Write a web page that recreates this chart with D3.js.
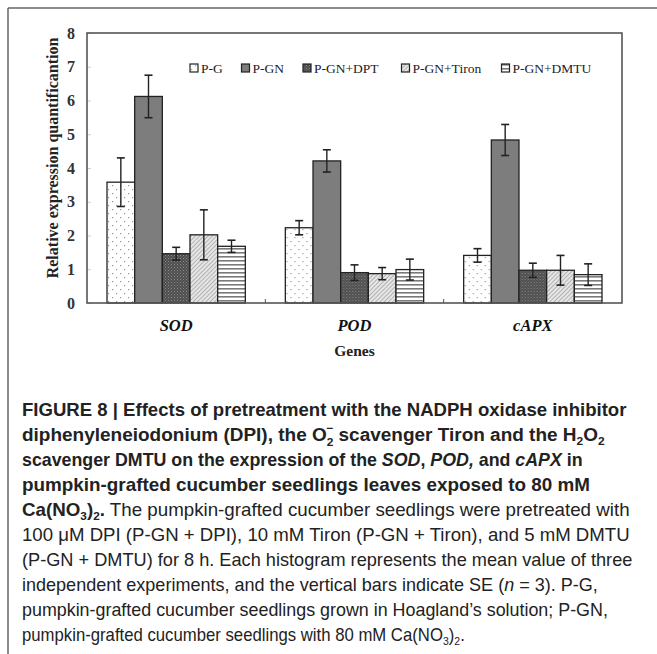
<!DOCTYPE html>
<html><head><meta charset="utf-8">
<script src="https://cdn.jsdelivr.net/npm/d3@7"></script>
<style>body{margin:0;background:#fff}svg{display:block}</style>
</head><body>
<script>
const genes = ["SOD", "POD", "cAPX"];
const seriesNames = ["P-G", "P-GN", "P-GN+DPT", "P-GN+Tiron", "P-GN+DMTU"];
const sodValues  = [3.58, 6.12, 1.46, 2.02, 1.68];
const sodErrors  = [0.72, 0.63, 0.19, 0.74, 0.18];
const podValues  = [2.23, 4.21, 0.90, 0.87, 0.99];
const podErrors  = [0.21, 0.33, 0.23, 0.18, 0.31];
const capxValues = [1.41, 4.83, 0.97, 0.97, 0.84];
const capxErrors = [0.20, 0.46, 0.21, 0.44, 0.32];
const yTicks = [0, 1, 2, 3, 4, 5, 6, 7, 8];

const valuesByGene = [sodValues, podValues, capxValues];
const errorsByGene = [sodErrors, podErrors, capxErrors];

const W = 657, H = 654;
const svg = d3.select("body").append("svg").attr("width", W).attr("height", H);
const defs = svg.append("defs");

// patterns
const pDots = defs.append("pattern").attr("id","pg").attr("patternUnits","userSpaceOnUse").attr("width",8).attr("height",8);
pDots.append("rect").attr("width",8).attr("height",8).attr("fill","#fff");
pDots.append("rect").attr("x",1).attr("y",1).attr("width",1.2).attr("height",1.2).attr("fill","#999");
pDots.append("rect").attr("x",5).attr("y",5).attr("width",1.2).attr("height",1.2).attr("fill","#999");

const pSolid = defs.append("pattern").attr("id","pgn").attr("patternUnits","userSpaceOnUse").attr("width",4).attr("height",4);
pSolid.append("rect").attr("width",4).attr("height",4).attr("fill","#7d7d7d");

const pDpt = defs.append("pattern").attr("id","dpt").attr("patternUnits","userSpaceOnUse").attr("width",3).attr("height",3);
pDpt.append("rect").attr("width",3).attr("height",3).attr("fill","#4e4e4e");
pDpt.append("rect").attr("x",0).attr("y",0).attr("width",1).attr("height",1).attr("fill","#8a8a8a");
pDpt.append("rect").attr("x",1.5).attr("y",1.5).attr("width",1).attr("height",1).attr("fill","#7a7a7a");

const pTir = defs.append("pattern").attr("id","tir").attr("patternUnits","userSpaceOnUse").attr("width",3).attr("height",3).attr("patternTransform","rotate(45)");
pTir.append("rect").attr("width",3).attr("height",3).attr("fill","#e6e6e6");
pTir.append("line").attr("x1",0).attr("y1",0).attr("x2",0).attr("y2",3).attr("stroke","#8f8f8f").attr("stroke-width",1.2);

const pDm = defs.append("pattern").attr("id","dm").attr("patternUnits","userSpaceOnUse").attr("width",4).attr("height",4);
pDm.append("rect").attr("width",4).attr("height",4).attr("fill","#fff");
pDm.append("rect").attr("y",0).attr("width",4).attr("height",1.6).attr("fill","#7a7a7a");

const fills = ["url(#pg)", "url(#pgn)", "url(#dpt)", "url(#tir)", "url(#dm)"];

// outer frame
svg.append("line").attr("x1",8).attr("y1",8).attr("x2",W).attr("y2",8).attr("stroke","#666").attr("stroke-width",1.5);
svg.append("line").attr("x1",8).attr("y1",8).attr("x2",8).attr("y2",H).attr("stroke","#666").attr("stroke-width",1.5);

const L = 87, R = 622, T = 33, B = 303;
const x0 = d3.scaleBand().domain(genes).range([L, R]).padding(0);
const x1 = d3.scaleBand().domain(seriesNames).range([20, x0.bandwidth() - 20]).padding(0);
const y = d3.scaleLinear().domain([0, 8]).range([B, T]);

const serif = "'Liberation Serif','Times New Roman',serif";

// y ticks (inner, faint)
const yAxis = svg.append("g").attr("transform", `translate(${L},0)`)
  .call(d3.axisRight(y).tickValues(yTicks).tickSize(4).tickFormat(""));
yAxis.select(".domain").remove();
yAxis.selectAll("line").attr("stroke","#ccc");
svg.append("g").selectAll("text").data(yTicks).join("text")
  .attr("x", 71).attr("y", d => y(d)).attr("dy","0.35em").attr("text-anchor","middle")
  .attr("font-family", serif).attr("font-weight","bold").attr("font-size",16).attr("fill","#333")
  .text(d => d);

// category boundary ticks
const bounds = genes.slice(1).map(g => x0(g));
svg.append("g").selectAll("line").data(bounds).join("line")
  .attr("x1", d => d).attr("x2", d => d).attr("y1", B).attr("y2", B - 4)
  .attr("stroke","#555").attr("stroke-width",1);

// bars
const groups = svg.append("g").selectAll("g").data(genes).join("g")
  .attr("transform", g => `translate(${x0(g)},0)`);
groups.selectAll("rect").data((g, gi) => seriesNames.map((s, si) => ({s, si, v: valuesByGene[gi][si], e: errorsByGene[gi][si]})))
  .join("rect")
  .attr("x", d => x1(d.s)).attr("width", x1.bandwidth())
  .attr("y", d => y(d.v)).attr("height", d => y(0) - y(d.v))
  .attr("fill", d => fills[d.si]).attr("stroke","#222").attr("stroke-width",1.3);

// error bars
groups.each(function(g, gi) {
  const grp = d3.select(this);
  const data = seriesNames.map((s, si) => ({s, v: valuesByGene[gi][si], e: errorsByGene[gi][si]}));
  const eb = grp.selectAll("g.eb").data(data).join("g").attr("class","eb")
    .attr("transform", d => `translate(${x1(d.s) + x1.bandwidth()/2},0)`);
  eb.append("line").attr("x1",0).attr("x2",0).attr("y1", d => y(d.v + d.e)).attr("y2", d => y(d.v - d.e))
    .attr("stroke","#222").attr("stroke-width",1.4);
  eb.append("line").attr("x1",-4).attr("x2",4).attr("y1", d => y(d.v + d.e)).attr("y2", d => y(d.v + d.e))
    .attr("stroke","#222").attr("stroke-width",1.6);
  eb.append("line").attr("x1",-4).attr("x2",4).attr("y1", d => y(d.v - d.e)).attr("y2", d => y(d.v - d.e))
    .attr("stroke","#222").attr("stroke-width",1.6);
});

// plot border
svg.append("rect").attr("x", L).attr("y", T).attr("width", R - L).attr("height", B - T)
  .attr("fill","none").attr("stroke","#555").attr("stroke-width",1.6);

// category labels
svg.append("g").selectAll("text").data(genes).join("text")
  .attr("x", g => x0(g) + x0.bandwidth()/2).attr("y", 325).attr("dy","0.35em").attr("text-anchor","middle")
  .attr("font-family", serif).attr("font-weight","bold").attr("font-style","italic").attr("font-size",16.5).attr("fill","#111")
  .text(g => g);
svg.append("text").attr("x", (L + R)/2).attr("y", 351).attr("dy","0.35em").attr("text-anchor","middle")
  .attr("font-family", serif).attr("font-weight","bold").attr("font-size",15.5).attr("fill","#222").text("Genes");
svg.append("text").attr("transform", `translate(52,158) rotate(-90)`).attr("dy","0.35em").attr("text-anchor","middle")
  .attr("font-family", serif).attr("font-weight","bold").attr("font-size",16).attr("fill","#222")
  .text("Relative expression quantificantion");

// legend
const legendX = [190, 241.5, 303, 401.5, 501.5];
const lg = svg.append("g").selectAll("g").data(seriesNames).join("g")
  .attr("transform", (d, i) => `translate(${legendX[i]},68)`);
lg.append("rect").attr("x",0).attr("y",-4).attr("width",8).attr("height",8)
  .attr("fill", (d, i) => fills[i]).attr("stroke","#222").attr("stroke-width",1.2);
lg.append("text").attr("x",11).attr("y",0).attr("dy","0.35em")
  .attr("font-family", serif).attr("font-size",13.5).attr("fill","#222").text(d => d);

// caption
const sans = "'Liberation Sans', Arial, sans-serif";
function capLine(yy, parts, weight, targetW) {
  const g = svg.append("g").attr("transform", `translate(22,${yy})`);
  const t = g.append("text").attr("font-family", sans).attr("font-size",17.5).attr("font-weight",weight).attr("fill","#222");
  parts.forEach(p => {
    const ts = t.append("tspan").text(p.t);
    if (p.i) ts.attr("font-style","italic");
    if (p.w) ts.attr("font-weight", p.w);
    if (p.sub) ts.attr("font-size",11).attr("dy", p.dy !== undefined ? p.dy : 4);
    if (p.sup) ts.attr("font-size",11).attr("dy", p.dy !== undefined ? p.dy : -7);
    if (p.dx) ts.attr("dx", p.dx);
    if (p.back !== undefined) ts.attr("dy", p.back);
  });
  const w = t.node().getComputedTextLength();
  if (targetW) g.attr("transform", `translate(22,${yy}) scale(${targetW / w},1)`);
}
capLine(416, [{t:"FIGURE 8 | Effects of pretreatment with the NADPH oxidase inhibitor"}], "bold", 605);
capLine(441, [{t:"diphenyleneiodonium (DPI), the O"},{t:"2",sub:1,dy:5},{t:"−",sup:1,dx:-6.5,dy:-14},{t:" scavenger Tiron and the H",back:9},{t:"2",sub:1,dy:4},{t:"O",back:-4},{t:"2",sub:1,dy:4}], "bold", 590);
capLine(466, [{t:"scavenger DMTU on the expression of the "},{t:"SOD",i:1},{t:", "},{t:"POD,",i:1},{t:" and "},{t:"cAPX",i:1},{t:" in"}], "bold", 561);
capLine(491, [{t:"pumpkin-grafted cucumber seedlings leaves exposed to 80 mM"}], "bold", 568);
capLine(516, [{t:"Ca(NO"},{t:"3",sub:1,dy:4},{t:")",back:-4},{t:"2",sub:1,dy:4},{t:".",back:-4},{t:" The pumpkin-grafted cucumber seedlings were pretreated with",w:"normal"}], "bold", 608);
capLine(541, [{t:"100 μM DPI (P-GN + DPI), 10 mM Tiron (P-GN + Tiron), and 5 mM DMTU"}], "normal", 608);
capLine(566, [{t:"(P-GN + DMTU) for 8 h. Each histogram represents the mean value of three"}], "normal", 611);
capLine(591, [{t:"independent experiments, and the vertical bars indicate SE ("},{t:"n",i:1},{t:" = 3). P-G,"}], "normal", 576);
capLine(616, [{t:"pumpkin-grafted cucumber seedlings grown in Hoagland’s solution; P-GN,"}], "normal", 586);
capLine(641, [{t:"pumpkin-grafted cucumber seedlings with 80 mM Ca(NO"},{t:"3",sub:1,dy:4},{t:")",back:-4},{t:"2",sub:1,dy:4},{t:".",back:-4}], "normal", 443);
</script>
</body></html>
